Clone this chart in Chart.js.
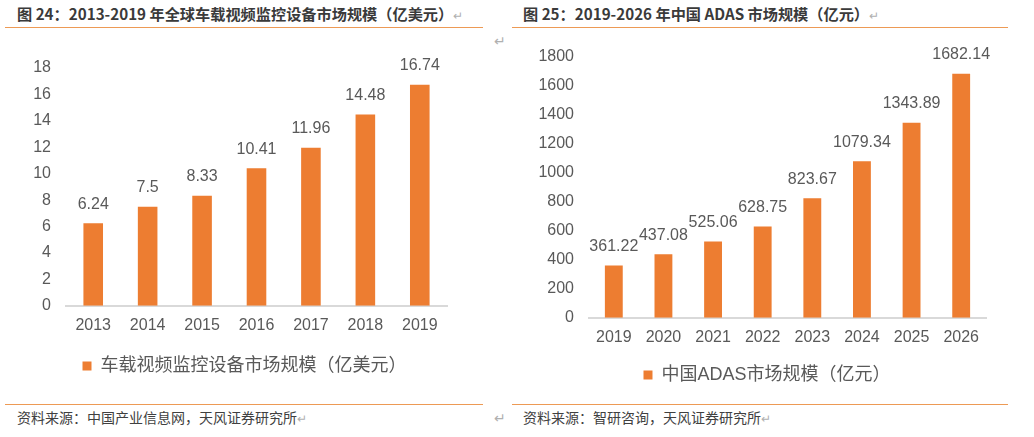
<!DOCTYPE html>
<html><head><meta charset="utf-8">
<script src="https://cdn.jsdelivr.net/npm/chart.js@4"></script>
<style>
html,body{margin:0;padding:0;background:#fff;width:1034px;height:437px;overflow:hidden;}
body{position:relative;font-family:"Liberation Sans","Noto Sans CJK SC",sans-serif;}
.t{position:absolute;white-space:nowrap;}
.title{font-weight:bold;font-size:15.2px;color:#3a3a3a;top:2px;font-family:"Noto Sans CJK SC","Liberation Sans",sans-serif;}
.src{font-size:14px;color:#404040;top:407px;font-family:"Noto Sans CJK SC",sans-serif;}
.rt{color:#b0b0b0;font-size:12px;font-weight:normal;}
.ln{position:absolute;height:1.3px;background:#ED9A55;}
.cv{position:absolute;}
</style></head><body>
<div class="t title" style="left:17px;">图 24：2013-2019 年全球车载视频监控设备市场规模（亿美元）<span class="rt">↵</span></div>
<div class="t title" style="left:523px;">图 25：2019-2026 年中国 ADAS 市场规模（亿元）<span class="rt">↵</span></div>
<div class="ln" style="left:5px;width:478px;top:27px;"></div>
<div class="ln" style="left:512px;width:496px;top:27px;"></div>
<div class="ln" style="left:5px;width:478px;top:404px;"></div>
<div class="ln" style="left:512px;width:496px;top:404px;"></div>
<div class="t rt" style="left:494px;top:33px;font-size:14px;">↵</div>
<div class="t rt" style="left:494px;top:410px;font-size:14px;">↵</div>
<div class="t src" style="left:17px;">资料来源：中国产业信息网，天风证券研究所<span class="rt">↵</span></div>
<div class="t src" style="left:523px;">资料来源：智研咨询，天风证券研究所<span class="rt">↵</span></div>
<div class="cv" style="left:20px;top:40px;width:442px;height:349px;"><canvas id="c1"></canvas></div>
<div class="cv" style="left:530px;top:32px;width:469px;height:366px;"><canvas id="c2"></canvas></div>
<script>
const years1 = ['2013','2014','2015','2016','2017','2018','2019'];
const values1 = [6.24, 7.5, 8.33, 10.41, 11.96, 14.48, 16.74];
const labels1 = ['6.24','7.5','8.33','10.41','11.96','14.48','16.74'];
const seriesName1 = '车载视频监控设备市场规模（亿美元）';

const years2 = ['2019','2020','2021','2022','2023','2024','2025','2026'];
const values2 = [361.22, 437.08, 525.06, 628.75, 823.67, 1079.34, 1343.89, 1682.14];
const labels2 = ['361.22','437.08','525.06','628.75','823.67','1079.34','1343.89','1682.14'];
const seriesName2 = '中国ADAS市场规模（亿元）';

const FONT = '"Liberation Sans","Noto Sans CJK SC",sans-serif';
const TXT = '#595959';
const ORANGE = '#ED7D31';

const valueLabels = {
  id: 'valueLabels',
  afterDatasetsDraw(chart) {
    const ctx = chart.ctx;
    const ds = chart.data.datasets[0];
    const meta = chart.getDatasetMeta(0);
    ctx.save();
    ctx.font = '16px ' + FONT;
    ctx.fillStyle = TXT;
    ctx.textAlign = 'center';
    ctx.textBaseline = 'bottom';
    meta.data.forEach((bar, i) => {
      ctx.fillText(ds.valueText[i], bar.x, bar.y - 11);
    });
    ctx.restore();
  }
};

const legendShift = {
  id: 'legendShift',
  afterLayout(chart, args, opts) {
    const lg = chart.legend;
    if (lg) { lg.left += opts.dx; lg.right += opts.dx; }
  }
};

function make(id, cats, vals, txts, name, max, step, yWidth, padTop, padRight, xPad, xExtra, dx) {
  return new Chart(document.getElementById(id), {
    type: 'bar',
    data: { labels: cats, datasets: [{ label: name, data: vals, valueText: txts,
      backgroundColor: ORANGE, borderWidth: 0, categoryPercentage: 1, barPercentage: 0.36 }] },
    options: {
      responsive: true, maintainAspectRatio: false, animation: false,
      layout: { padding: { top: padTop, right: padRight, left: 0, bottom: 4 } },
      plugins: {
        tooltip: { enabled: false },
        legendShift: { dx: dx },
        legend: { position: 'bottom', labels: { color: TXT, font: { size: 18, family: FONT },
          boxWidth: 9, boxHeight: 9, padding: 10, useBorderRadius: false } }
      },
      scales: {
        x: { grid: { display: false, drawTicks: false }, border: { display: true, color: '#D9D9D9', width: 2 },
             ticks: { color: TXT, font: { size: 16, family: FONT }, padding: xPad },
             afterFit(s) { s.height = s.height + xExtra; } },
        y: { min: 0, max: max, grid: { display: false, drawTicks: false }, border: { display: false },
             ticks: { stepSize: step, color: TXT, font: { size: 16, family: FONT }, padding: 15,
                      callback: (v) => String(v) },
             afterFit(s) { s.width = yWidth; } }
      }
    },
    plugins: [valueLabels, legendShift]
  });
}
make('c1', years1, values1, labels1, seriesName1, 18, 2, 46, 28, 15, 10, 2, 11);
make('c2', years2, values2, labels2, seriesName2, 1800, 200, 59, 24, 13, 10, -1, 9);
</script>
</body></html>
